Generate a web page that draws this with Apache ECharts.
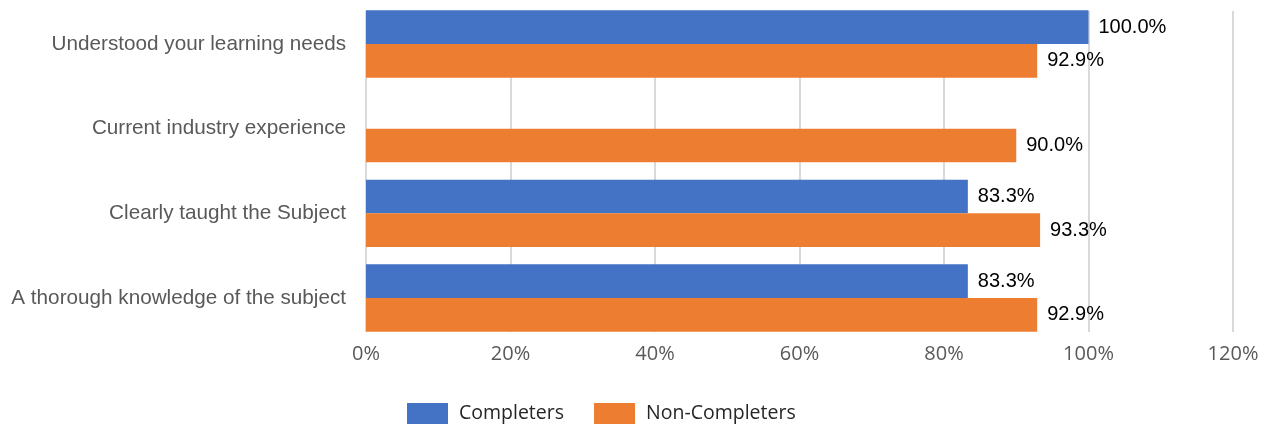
<!DOCTYPE html>
<html>
<head>
<meta charset="utf-8">
<script src="https://cdn.jsdelivr.net/npm/echarts@6/dist/echarts.min.js"></script>
<style>html,body{margin:0;padding:0;background:#fff}#c{width:1272px;height:427px}</style>
</head>
<body>
<div id="c"></div>
<script>
const categories = ['Understood your learning needs', 'Current industry experience', 'Clearly taught the Subject', 'A thorough knowledge of the subject'];
const completers = [100.0, null, 83.3, 83.3];
const nonCompleters = [92.9, 90.0, 93.3, 92.9];
const xTicks = { min: 0, max: 120, interval: 20 };
const seriesNames = ['Completers', 'Non-Completers'];

const chart = echarts.init(document.getElementById('c'));
const labelCfg = {
  show: true, position: 'right', distance: 10,
  color: '#000', fontFamily: 'Liberation Sans, Arial, sans-serif', fontSize: 20,
  formatter: p => p.value == null ? '' : p.value.toFixed(1) + '%'
};
chart.setOption({
  animation: false,
  color: ['#4472C4', '#ED7D31'],
  grid: [
    { left: 366, right: 39, top: 1.65, bottom: 86.65 },
    { left: 366, right: 39, top: 11, bottom: 95 }
  ],
  legend: {
    left: 407, top: 403, padding: 0, itemWidth: 41, itemHeight: 21, itemGap: 30,
    icon: 'rect',
    textStyle: { color: '#262626', fontFamily: 'Open Sans, Noto Sans, sans-serif', fontSize: 19.5, padding: [0, 0, 0, 6] },
    data: seriesNames
  },
  xAxis: [
    { gridIndex: 0, type: 'value', min: xTicks.min, max: xTicks.max, interval: xTicks.interval,
      axisLabel: { show: false }, splitLine: { show: false }, axisLine: { show: false }, axisTick: { show: false } },
    { gridIndex: 1, type: 'value', min: xTicks.min, max: xTicks.max, interval: xTicks.interval,
      axisLabel: { formatter: '{value}%', color: '#595959', fontFamily: 'Open Sans, Noto Sans, sans-serif', fontSize: 20, margin: 12 },
      splitLine: { show: true, lineStyle: { color: '#D9D9D9', width: 2 } },
      axisLine: { show: false }, axisTick: { show: false } }
  ],
  yAxis: [
    { gridIndex: 0, type: 'category', data: categories, inverse: true,
      axisLine: { show: false }, axisTick: { show: false },
      axisLabel: { color: '#595959', fontFamily: 'Liberation Sans, Arial, sans-serif', fontSize: 20.7, margin: 20 } },
    { gridIndex: 1, type: 'value', min: 0, max: 1, show: false }
  ],
  series: [
    { name: seriesNames[0], type: 'bar', xAxisIndex: 0, yAxisIndex: 0, data: completers,
      barWidth: 33.7, barGap: '0%', label: labelCfg, z: 3 },
    { name: seriesNames[1], type: 'bar', xAxisIndex: 0, yAxisIndex: 0, data: nonCompleters,
      barWidth: 33.7, barGap: '0%', label: labelCfg, z: 3 }
  ]
});
</script>
</body>
</html>
